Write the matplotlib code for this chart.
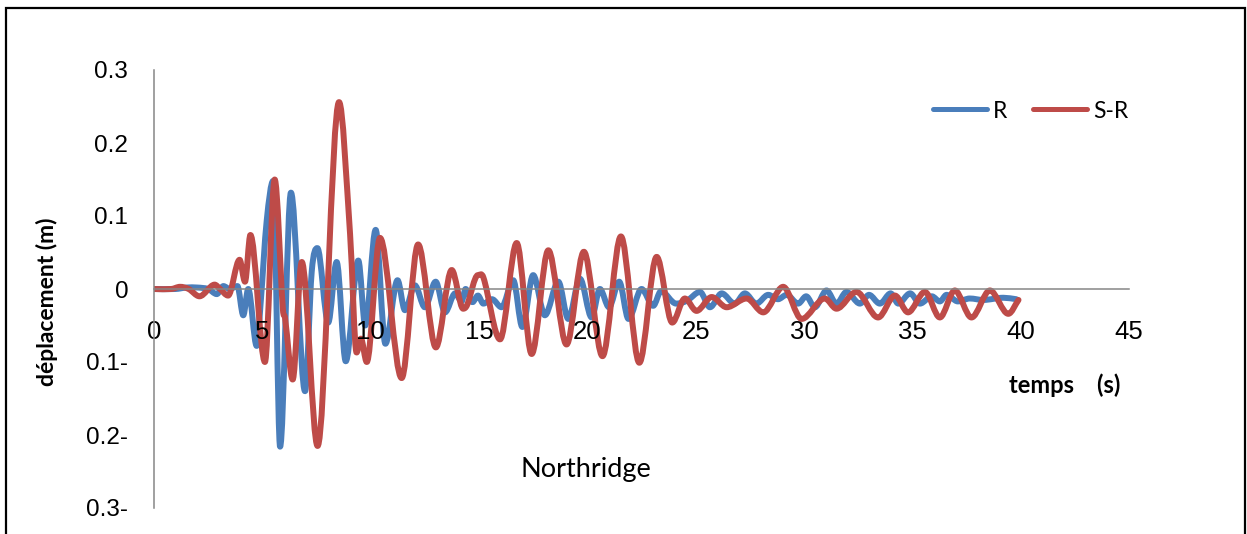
import numpy as np
import matplotlib.pyplot as plt
from matplotlib.path import Path
from matplotlib.patches import PathPatch, Rectangle
from matplotlib.lines import Line2D

# données (temps en s, déplacement en m)
t_r = [0, 1.0, 1.5, 2.0, 2.5, 2.9, 3.2, 3.5, 3.85, 4.12, 4.35, 4.74, 4.92, 5.2, 5.5,
       5.82, 6.32, 6.97, 7.28, 7.54, 8.04, 8.43, 8.85, 9.43, 9.75, 10.23, 10.68,
       11.24, 11.58, 12.04, 12.5, 13.0, 13.43, 13.9, 14.2, 14.38, 14.7, 14.95, 15.2,
       15.6, 16.04, 16.58, 17.0, 17.5, 18.04, 18.66, 19.12, 19.66, 20.2, 20.58, 21.0,
       21.47, 21.9, 22.5, 23.04, 23.4, 24.1, 24.6, 25.2, 25.66, 26.2, 26.8, 27.27,
       27.8, 28.35, 28.8, 29.2, 29.73, 30.1, 30.5, 31.04, 31.5, 31.96, 32.58, 33.0,
       33.5, 34.0, 34.35, 34.9, 35.35, 35.9, 36.27, 36.58, 37.1, 37.65, 38.27, 39.2,
       39.8]
v_r = [0, 0.0, 0.002, 0.002, 0.0, -0.007, 0.004, 0.0, 0.004, -0.036, 0.0, -0.078,
       -0.02, 0.093, 0.148, -0.216, 0.132, -0.140, 0.024, 0.056, -0.046, 0.037,
       -0.099, 0.039, -0.050, 0.081, -0.075, 0.012, -0.029, 0.005, -0.025, 0.010,
       -0.032, -0.006, -0.017, 0.0, -0.018, -0.009, -0.020, -0.014, -0.025, 0.012,
       -0.052, 0.019, -0.036, 0.010, -0.041, 0.014, -0.039, 0.0, -0.025, 0.010,
       -0.041, 0.0, -0.023, -0.003, -0.020, -0.016, -0.004, -0.025, -0.006, -0.020,
       -0.006, -0.020, -0.008, -0.014, -0.008, -0.020, -0.010, -0.025, -0.002,
       -0.020, -0.004, -0.020, -0.008, -0.020, -0.006, -0.020, -0.006, -0.020,
       -0.010, -0.017, -0.008, -0.017, -0.013, -0.015, -0.012, -0.014]

t_sr = [0, 0.8, 1.2, 1.6, 2.1, 2.8, 3.05, 3.42, 3.95, 4.2, 4.45, 5.12, 5.57, 5.95,
        6.05, 6.4, 6.82, 7.55, 8.54, 9.05, 9.35, 9.55, 9.82, 10.43, 11.43, 12.19,
        13.01, 13.74, 14.27, 14.45, 14.95, 15.2, 15.97, 16.74, 17.43, 18.2, 19.04,
        19.84, 20.7, 21.55, 22.4, 23.2, 23.92, 24.5, 25.04, 25.74, 26.43, 27.35,
        28.12, 29.04, 29.89, 30.96, 31.5, 32.42, 33.42, 34.2, 34.8, 35.58, 36.27,
        36.96, 37.73, 38.58, 39.43, 39.9]
v_sr = [0, 0.0, 0.003, 0.0, -0.010, 0.006, 0.0, -0.009, 0.040, 0.010, 0.074, -0.100,
        0.150, -0.028, -0.040, -0.124, 0.037, -0.215, 0.256, 0.075, -0.087, -0.068,
        -0.100, 0.070, -0.122, 0.061, -0.080, 0.026, -0.027, -0.022, 0.019, 0.016,
        -0.069, 0.063, -0.089, 0.053, -0.076, 0.051, -0.092, 0.072, -0.101, 0.044,
        -0.046, -0.013, -0.030, -0.011, -0.025, -0.013, -0.032, 0.003, -0.041,
        -0.013, -0.027, -0.004, -0.039, -0.009, -0.032, -0.004, -0.039, -0.002,
        -0.039, -0.002, -0.034, -0.015]

xticks = [0, 5, 10, 15, 20, 25, 30, 35, 40, 45]
yticks = [-0.3, -0.2, -0.1, 0, 0.1, 0.2, 0.3]
ylabels = ['0.3-', '0.2-', '0.1-', '0', '0.1', '0.2', '0.3']

bleu = '#4a7ebb'
rouge = '#be4b48'
gris = '#868686'


def courbe_lissee(t, v):
    # ligne lissée façon Excel (bezier cubique entre les points)
    t = np.asarray(t, float)
    v = np.asarray(v, float)
    n = len(t)
    pente = np.zeros(n)
    for i in range(n):
        a = max(i - 1, 0)
        b = min(i + 1, n - 1)
        pente[i] = (v[b] - v[a]) / (t[b] - t[a])
        if 0 < i < n - 1 and (v[i] - v[a]) * (v[i] - v[b]) > 0:
            pente[i] = 0
    verts = [(t[0], v[0])]
    codes = [Path.MOVETO]
    for i in range(n - 1):
        h = (t[i + 1] - t[i]) / 3
        verts += [(t[i] + h, v[i] + pente[i] * h),
                  (t[i + 1] - h, v[i + 1] - pente[i + 1] * h),
                  (t[i + 1], v[i + 1])]
        codes += [Path.CURVE4] * 3
    return Path(verts, codes)


fig = plt.figure(figsize=(12.47, 5.34), dpi=100)
ax = fig.add_axes([154 / 1247, 1 - 508 / 534, 975 / 1247, 438 / 534])

ax.spines['top'].set_visible(False)
ax.spines['right'].set_visible(False)
ax.spines['bottom'].set_position(('data', 0))
ax.spines['left'].set_color(gris)
ax.spines['bottom'].set_color(gris)
ax.spines['left'].set_linewidth(1.1)
ax.spines['bottom'].set_linewidth(1.1)
ax.patch.set_alpha(0)

for t, v, c in [(t_r, v_r, bleu), (t_sr, v_sr, rouge)]:
    ax.add_patch(PathPatch(courbe_lissee(t, v), fill=False, edgecolor=c, lw=4.3,
                           capstyle='round', joinstyle='round'))

ax.set_xlim(0, 45)
ax.set_ylim(-0.3, 0.3)
ax.set_xticks(xticks)
ax.set_xticklabels([str(x) for x in xticks], fontsize=18.5, family='Liberation Sans')
ax.set_yticks(yticks)
ax.set_yticklabels(ylabels, fontsize=17.5, family='Liberation Sans')
ax.tick_params(axis='x', length=0, pad=22)
ax.tick_params(axis='y', length=0, pad=18.5)

# légende
poignees = [Line2D([], [], color=bleu, lw=3.6, solid_capstyle='round'),
            Line2D([], [], color=rouge, lw=3.6, solid_capstyle='round')]
fig.legend(poignees, ['R', 'S-R'], loc='center left', ncol=2, frameon=False,
           bbox_to_anchor=(933 / 1247, 1 - 111 / 534), borderpad=0, borderaxespad=0,
           prop={'family': 'Lato', 'size': 16.5}, handlelength=2.35,
           handletextpad=0.25, columnspacing=1.15)

fig.text(47 / 1247, 1 - 302 / 534, 'déplacement (m)', rotation=90, ha='center',
         va='center', fontsize=16.5, fontweight='bold', family='Lato')
fig.text(1065 / 1247, 1 - 385 / 534, 'temps    (s)', ha='center', va='center',
         fontsize=17, fontweight='bold', family='Lato')
fig.text(586 / 1247, 1 - 470 / 534, 'Northridge', ha='center', va='center',
         fontsize=19.5, family='Lato')

# cadre
fig.patches.append(Rectangle((6 / 1247, -0.05), 1239 / 1247, 1.05 - 8 / 534,
                             transform=fig.transFigure, fill=False,
                             edgecolor='black', lw=1.6))

fig.savefig('out.png', dpi=100)
